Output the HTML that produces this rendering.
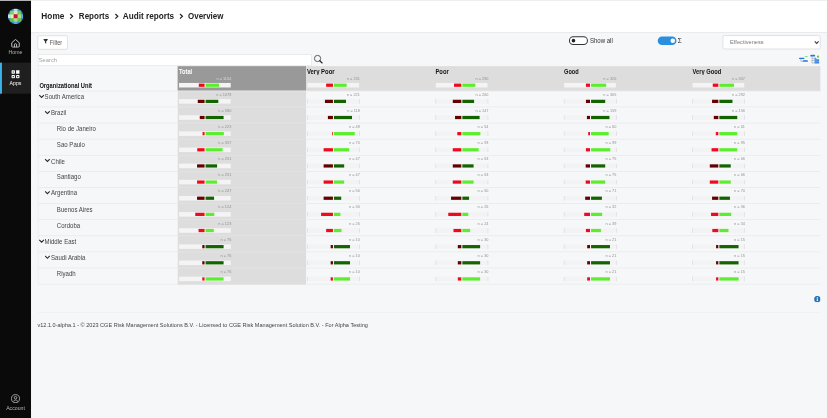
<!DOCTYPE html><html lang="en"><head><meta charset="utf-8"><title>Overview - Audit reports</title><style>
*{box-sizing:border-box;margin:0;padding:0}
html,body{width:827px;height:418px;overflow:hidden;background:#f6f7f9}
body{font-family:"Liberation Sans",sans-serif;color:#333}
#app{position:absolute;left:0;top:0;width:1280px;height:647px;transform:scale(0.64609375);transform-origin:0 0;background:#f6f7f9;overflow:hidden}
.abs{position:absolute}
.t{position:absolute;white-space:nowrap;line-height:1;transform-origin:0 50%}
#sidebar{position:absolute;left:0;top:0;width:48px;height:647px;background:#0a0a0a}
.nav{position:absolute;left:0;width:48px;height:48px;color:#d0d0d0}
.nav.active{background:#1f1f1f;border-left:3px solid #3cb2ea}
.navlbl{position:absolute;left:0;width:48px;text-align:center;font-size:8px;line-height:10px;color:#b4b4b4}
.bc{font-weight:bold;font-size:13.8px;color:#222}
.n{position:absolute;font-size:6.5px;line-height:8px;color:#939393;text-align:right;white-space:nowrap;transform:scaleX(0.92);transform-origin:100% 50%}
.lbl{font-size:10.1px;color:#444}
.hl{font-weight:bold;font-size:9.7px;color:#111}
</style></head><body><div id="app">
<svg class="abs" style="left:0;top:0" width="1280" height="647" viewBox="0 0 1280 647"><rect x="48" y="0" width="1232" height="50.2" fill="#fff"/><rect x="48" y="0" width="1232" height="1.15" fill="#eeeeee"/><rect x="48" y="49.9" width="1232" height="1.1" fill="#e3e4e6"/><rect x="58.4" y="55.3" width="46" height="21" rx="2.5" fill="#fff" stroke="#d4d4d4" stroke-width="1"/><rect x="881.4" y="57" width="27.8" height="11.8" rx="5.9" fill="#fff" stroke="#333" stroke-width="1.6"/><circle cx="887.6" cy="62.9" r="2.8" fill="#222"/><rect x="1018" y="56.6" width="29" height="13.2" rx="6.6" fill="#2b8fde"/><circle cx="1041.3" cy="63.2" r="3.5" fill="#fff"/><rect x="1119" y="55" width="150.6" height="20.8" rx="2.5" fill="#fff" stroke="#d4d4d4" stroke-width="1"/><rect x="59.2" y="84.5" width="422.8" height="17.2" fill="#fff" stroke="#e4e4e4" stroke-width="1"/></svg>
<span class="t bc" style="transform:scaleX(0.9284);left:64.2px;top:18.1px">Home</span>
<span class="t bc" style="transform:scaleX(0.9014);left:121.7px;top:18.1px">Reports</span>
<span class="t bc" style="transform:scaleX(0.9189);left:190px;top:18.1px">Audit reports</span>
<span class="t bc" style="transform:scaleX(0.8931);left:291.3px;top:18.1px">Overview</span>
<svg class="abs" style="left:107.2px;top:19.3px" width="8" height="12" viewBox="0 0 8 12"><path d="M1.6 2.6 L5.4 6.2 L1.6 9.8" fill="none" stroke="#222" stroke-width="1.8"/></svg>
<svg class="abs" style="left:177.0px;top:19.3px" width="8" height="12" viewBox="0 0 8 12"><path d="M1.6 2.6 L5.4 6.2 L1.6 9.8" fill="none" stroke="#222" stroke-width="1.8"/></svg>
<svg class="abs" style="left:277.2px;top:19.3px" width="8" height="12" viewBox="0 0 8 12"><path d="M1.6 2.6 L5.4 6.2 L1.6 9.8" fill="none" stroke="#222" stroke-width="1.8"/></svg>
<div id="sidebar">
<svg class="abs" style="left:12px;top:13.3px" width="24.3" height="24.3" viewBox="0 0 25 25">
<defs><clipPath id="lc"><circle cx="12.5" cy="12.5" r="12.3"/></clipPath></defs>
<g clip-path="url(#lc)">
<rect width="25" height="25" fill="#2a8ddb"/>
<rect x="9.5" y="0" width="6" height="4" fill="#cfe2f6"/>
<rect x="0" y="9.5" width="4" height="6" fill="#c9def3"/>
<rect x="21" y="9.5" width="4" height="6" fill="#58a6e4"/>
<rect x="9.5" y="21" width="6" height="4" fill="#5aa8e5"/>
<rect x="3.9" y="3.9" width="17.2" height="17.2" fill="#6cbf45"/>
<rect x="3.9" y="3.9" width="5.6" height="5.6" fill="#86ca63"/>
<rect x="15.5" y="3.9" width="5.6" height="5.6" fill="#78c553"/>
<rect x="9.5" y="3.9" width="6" height="5.6" fill="#d3ebc3"/>
<rect x="3.9" y="9.5" width="5.6" height="6" fill="#dcefd2"/>
<rect x="15.5" y="9.5" width="5.6" height="6" fill="#a9da8f"/>
<rect x="9.5" y="15.5" width="6" height="5.6" fill="#a6d98b"/>
<rect x="9.5" y="9.5" width="6" height="6" fill="#e6003f"/>
</g></svg>
<div class="nav" style="top:49px">
<svg class="abs" style="left:17px;top:11px" width="14" height="14" viewBox="0 0 14 14"><path d="M1.2 6.2 L7 1 L12.8 6.2 V11.6 Q12.8 13 11.4 13 H2.6 Q1.2 13 1.2 11.6 Z" fill="none" stroke="#c8c8c8" stroke-width="1.5" stroke-linejoin="round"/><path d="M5.3 13 V9.2 Q5.3 7.6 7 7.6 Q8.7 7.6 8.7 9.2 V13" fill="none" stroke="#c8c8c8" stroke-width="1.5"/></svg>
<div class="navlbl" style="top:27.5px">Home</div></div>
<div class="nav active" style="top:97px">
<svg class="abs" style="left:14px;top:10.9px" width="14" height="14" viewBox="0 0 14 14"><g fill="none" stroke="#fff" stroke-width="1.7"><rect x="1.75" y="1.75" width="3.5" height="3.5" rx="0.2"/><rect x="1.75" y="8.75" width="3.5" height="3.5" rx="0.2"/><rect x="8.75" y="8.75" width="3.5" height="3.5" rx="0.2"/></g><rect x="7.9" y="0.9" width="5.2" height="5.2" rx="0.3" fill="#fff"/></svg>
<div class="navlbl" style="left:-3px;top:27.5px;color:#fff">Apps</div></div>
<div class="nav" style="top:599px">
<svg class="abs" style="left:17px;top:11px" width="14" height="14" viewBox="0 0 14 14"><circle cx="7" cy="7" r="6.2" fill="none" stroke="#c4c4c4" stroke-width="1.2"/><circle cx="7" cy="5.6" r="2" fill="none" stroke="#c4c4c4" stroke-width="1.2"/><path d="M3.2 11.6 Q7 6.6 10.8 11.6" fill="none" stroke="#c4c4c4" stroke-width="1.2"/></svg>
<div class="navlbl" style="top:27.6px">Account</div></div>
</div>
<svg class="abs" style="left:0;top:0" width="1280" height="2" viewBox="0 0 1280 2"><rect x="0" y="0" width="1280" height="1.15" fill="#eeeeee"/></svg>
<svg class="abs" style="left:67.4px;top:60.4px" width="7.2" height="8.1" viewBox="0 0 8 9"><path d="M0.3 0.3 H7.7 V1.6 L5 4.6 V8.7 L3 7.5 V4.6 L0.3 1.6 Z" fill="#333"/></svg>
<span class="t" style="transform:scaleX(0.8861);left:77.2px;top:61px;font-size:9.8px;color:#555">Filter</span>
<span class="t" style="transform:scaleX(0.9191);left:912.6px;top:58.9px;font-size:10.2px;color:#333">Show all</span>
<span class="t" style="left:1049.2px;top:58.4px;font-size:11px;color:#222;transform:scaleX(0.9)">&Sigma;</span>
<span class="t" style="transform:scaleX(0.9544);left:1130px;top:60.9px;font-size:9.2px;color:#777">Effectiveness</span>
<svg class="abs" style="left:1259.9px;top:63.3px" width="8" height="6" viewBox="0 0 8 6"><path d="M1 1 L4 4.2 L7 1" fill="none" stroke="#3c3c3c" stroke-width="1.7"/></svg>
<span class="t" style="transform:scaleX(0.9523);left:60.4px;top:88.2px;font-size:9.4px;color:#a4a4a4">Search</span>
<svg class="abs" style="left:485.4px;top:84.2px" width="15.8" height="15.8" viewBox="0 0 17 17"><circle cx="7" cy="7" r="5.2" fill="none" stroke="#333" stroke-width="1.3"/><path d="M10.8 10.8 L14.6 14.4" stroke="#333" stroke-width="2.2" stroke-linecap="round"/></svg>
<svg class="abs" style="left:1235px;top:84.9px" width="16" height="14" viewBox="0 0 16 14">
<path d="M4.6 6.4 V9.9 H7" fill="none" stroke="#999" stroke-width="0.9"/>
<rect x="1.8" y="4.4" width="8.2" height="2" rx="0.8" fill="#2277dd"/>
<rect x="10.4" y="2.1" width="5" height="1.3" rx="0.6" fill="#7bd35a"/>
<rect x="7.4" y="8.3" width="8" height="2.3" rx="0.8" fill="#2277dd"/>
</svg>
<svg class="abs" style="left:1253px;top:84.4px" width="17" height="16" viewBox="0 0 17 16">
<path d="M3.8 3.4 V13.8 M3.8 6.3 H7 M3.8 9.6 H7 M3.8 13.4 H7" fill="none" stroke="#999" stroke-width="0.9"/>
<rect x="1.2" y="0.9" width="7.4" height="2.6" rx="0.9" fill="#2277dd"/>
<circle cx="13.1" cy="3.7" r="1.8" fill="#6cc94a"/>
<rect x="7.4" y="5.5" width="3.2" height="1.5" rx="0.5" fill="#2277dd"/>
<rect x="7.6" y="8" width="7.2" height="6" fill="#5a9be6"/>
<rect x="7.6" y="8" width="7.2" height="1.3" fill="#2b7de0"/>
<rect x="7.6" y="12.7" width="7.2" height="1.3" fill="#2b7de0"/>
</svg>
<svg class="abs" style="left:0;top:0" width="1280" height="647" viewBox="0 0 1280 647"><rect x="274.90" y="102.40" width="198.80" height="38.30" fill="#999"/><rect x="473.70" y="102.40" width="796.00" height="38.20" fill="#dddddd"/><rect x="275.00" y="140.10" width="198.70" height="300.16" fill="#dddddd"/><rect x="274.00" y="140.10" width="1.20" height="299.16" fill="#f1f1f2"/><rect x="59.00" y="140.40" width="216.00" height="1.00" fill="#e6e7e9"/><rect x="473.70" y="140.60" width="796.00" height="1.00" fill="#e9eaec"/><rect x="275.00" y="140.70" width="198.70" height="1.40" fill="#e2e2e2"/><rect x="59.00" y="165.03" width="1210.70" height="1.00" fill="#e6e7e9"/><rect x="275.00" y="165.03" width="198.70" height="1.00" fill="#e0e0e0"/><rect x="59.00" y="189.96" width="1210.70" height="1.00" fill="#e6e7e9"/><rect x="275.00" y="189.96" width="198.70" height="1.00" fill="#e0e0e0"/><rect x="59.00" y="214.89" width="1210.70" height="1.00" fill="#e6e7e9"/><rect x="275.00" y="214.89" width="198.70" height="1.00" fill="#e0e0e0"/><rect x="59.00" y="239.82" width="1210.70" height="1.00" fill="#e6e7e9"/><rect x="275.00" y="239.82" width="198.70" height="1.00" fill="#e0e0e0"/><rect x="59.00" y="264.75" width="1210.70" height="1.00" fill="#e6e7e9"/><rect x="275.00" y="264.75" width="198.70" height="1.00" fill="#e0e0e0"/><rect x="59.00" y="289.68" width="1210.70" height="1.00" fill="#e6e7e9"/><rect x="275.00" y="289.68" width="198.70" height="1.00" fill="#e0e0e0"/><rect x="59.00" y="314.61" width="1210.70" height="1.00" fill="#e6e7e9"/><rect x="275.00" y="314.61" width="198.70" height="1.00" fill="#e0e0e0"/><rect x="59.00" y="339.54" width="1210.70" height="1.00" fill="#e6e7e9"/><rect x="275.00" y="339.54" width="198.70" height="1.00" fill="#e0e0e0"/><rect x="59.00" y="364.47" width="1210.70" height="1.00" fill="#e6e7e9"/><rect x="275.00" y="364.47" width="198.70" height="1.00" fill="#e0e0e0"/><rect x="59.00" y="389.40" width="1210.70" height="1.00" fill="#e6e7e9"/><rect x="275.00" y="389.40" width="198.70" height="1.00" fill="#e0e0e0"/><rect x="59.00" y="414.33" width="1210.70" height="1.00" fill="#e6e7e9"/><rect x="275.00" y="414.33" width="198.70" height="1.00" fill="#e0e0e0"/><rect x="59.00" y="439.26" width="1210.70" height="1.00" fill="#e6e7e9"/><rect x="275.00" y="439.26" width="198.70" height="1.00" fill="#dcdcdc"/><rect x="58.50" y="102.00" width="1.00" height="337.26" fill="#ececee"/><rect x="277.10" y="128.40" width="80" height="7" fill="#f4f4f4"/><rect x="307.70" y="129.40" width="8.90" height="5" fill="#ee0a1e"/><rect x="318.20" y="129.40" width="20.90" height="5" fill="#5bee2c"/><rect x="277.10" y="153.40" width="80" height="7" fill="#f4f4f4"/><rect x="306.10" y="154.40" width="10.50" height="5" fill="#640000"/><rect x="318.20" y="154.40" width="19.70" height="5" fill="#136400"/><rect x="277.10" y="178.38" width="80" height="7" fill="#f4f4f4"/><rect x="309.20" y="179.38" width="7.40" height="5" fill="#640000"/><rect x="318.20" y="179.38" width="27.90" height="5" fill="#136400"/><rect x="277.10" y="203.37" width="80" height="7" fill="#f4f4f4"/><rect x="313.50" y="204.37" width="3.10" height="5" fill="#ee0a1e"/><rect x="318.20" y="204.37" width="28.30" height="5" fill="#5bee2c"/><rect x="277.10" y="228.36" width="80" height="7" fill="#f4f4f4"/><rect x="305.30" y="229.36" width="11.30" height="5" fill="#ee0a1e"/><rect x="318.20" y="229.36" width="26.30" height="5" fill="#5bee2c"/><rect x="277.10" y="253.34" width="80" height="7" fill="#f4f4f4"/><rect x="305.00" y="254.34" width="11.60" height="5" fill="#640000"/><rect x="318.20" y="254.34" width="17.80" height="5" fill="#136400"/><rect x="277.10" y="278.32" width="80" height="7" fill="#f4f4f4"/><rect x="305.00" y="279.32" width="11.60" height="5" fill="#ee0a1e"/><rect x="318.20" y="279.32" width="17.80" height="5" fill="#5bee2c"/><rect x="277.10" y="303.31" width="80" height="7" fill="#f4f4f4"/><rect x="305.00" y="304.31" width="11.60" height="5" fill="#640000"/><rect x="318.20" y="304.31" width="13.10" height="5" fill="#136400"/><rect x="277.10" y="328.29" width="80" height="7" fill="#f4f4f4"/><rect x="302.20" y="329.29" width="14.40" height="5" fill="#ee0a1e"/><rect x="318.20" y="329.29" width="13.50" height="5" fill="#5bee2c"/><rect x="277.10" y="353.28" width="80" height="7" fill="#f4f4f4"/><rect x="307.30" y="354.28" width="9.30" height="5" fill="#ee0a1e"/><rect x="318.20" y="354.28" width="12.70" height="5" fill="#5bee2c"/><rect x="277.10" y="378.26" width="80" height="7" fill="#f4f4f4"/><rect x="313.10" y="379.26" width="3.50" height="5" fill="#640000"/><rect x="318.20" y="379.26" width="27.90" height="5" fill="#136400"/><rect x="277.10" y="403.25" width="80" height="7" fill="#f4f4f4"/><rect x="313.10" y="404.25" width="3.50" height="5" fill="#640000"/><rect x="318.20" y="404.25" width="27.90" height="5" fill="#136400"/><rect x="277.10" y="428.24" width="80" height="7" fill="#f4f4f4"/><rect x="313.10" y="429.24" width="3.50" height="5" fill="#ee0a1e"/><rect x="318.20" y="429.24" width="27.90" height="5" fill="#5bee2c"/><rect x="475.80" y="128.40" width="80" height="7" fill="#f4f4f4"/><rect x="504.80" y="129.40" width="10.50" height="5" fill="#ee0a1e"/><rect x="516.90" y="129.40" width="19.70" height="5" fill="#5bee2c"/><rect x="475.80" y="153.40" width="80.4" height="7" fill="#f3f3f4"/><rect x="475.30" y="153.40" width="1" height="7" fill="#d9d9d9"/><rect x="556.00" y="153.40" width="1" height="7" fill="#d9d9d9"/><rect x="502.90" y="154.40" width="12.40" height="5" fill="#640000"/><rect x="516.90" y="154.40" width="18.60" height="5" fill="#136400"/><rect x="475.80" y="178.38" width="80.4" height="7" fill="#f3f3f4"/><rect x="475.30" y="178.38" width="1" height="7" fill="#d9d9d9"/><rect x="556.00" y="178.38" width="1" height="7" fill="#d9d9d9"/><rect x="507.50" y="179.38" width="7.80" height="5" fill="#640000"/><rect x="516.90" y="179.38" width="27.90" height="5" fill="#136400"/><rect x="475.80" y="203.37" width="80.4" height="7" fill="#f3f3f4"/><rect x="475.30" y="203.37" width="1" height="7" fill="#d9d9d9"/><rect x="556.00" y="203.37" width="1" height="7" fill="#d9d9d9"/><rect x="514.10" y="204.37" width="1.20" height="5" fill="#ee0a1e"/><rect x="516.90" y="204.37" width="32.20" height="5" fill="#5bee2c"/><rect x="475.80" y="228.36" width="80.4" height="7" fill="#f3f3f4"/><rect x="475.30" y="228.36" width="1" height="7" fill="#d9d9d9"/><rect x="556.00" y="228.36" width="1" height="7" fill="#d9d9d9"/><rect x="500.90" y="229.36" width="14.40" height="5" fill="#ee0a1e"/><rect x="516.90" y="229.36" width="23.60" height="5" fill="#5bee2c"/><rect x="475.80" y="253.34" width="80.4" height="7" fill="#f3f3f4"/><rect x="475.30" y="253.34" width="1" height="7" fill="#d9d9d9"/><rect x="556.00" y="253.34" width="1" height="7" fill="#d9d9d9"/><rect x="500.90" y="254.34" width="14.40" height="5" fill="#640000"/><rect x="516.90" y="254.34" width="15.80" height="5" fill="#136400"/><rect x="475.80" y="278.32" width="80.4" height="7" fill="#f3f3f4"/><rect x="475.30" y="278.32" width="1" height="7" fill="#d9d9d9"/><rect x="556.00" y="278.32" width="1" height="7" fill="#d9d9d9"/><rect x="500.90" y="279.32" width="14.40" height="5" fill="#ee0a1e"/><rect x="516.90" y="279.32" width="15.80" height="5" fill="#5bee2c"/><rect x="475.80" y="303.31" width="80.4" height="7" fill="#f3f3f4"/><rect x="475.30" y="303.31" width="1" height="7" fill="#d9d9d9"/><rect x="556.00" y="303.31" width="1" height="7" fill="#d9d9d9"/><rect x="500.90" y="304.31" width="14.40" height="5" fill="#640000"/><rect x="516.90" y="304.31" width="11.20" height="5" fill="#136400"/><rect x="475.80" y="328.29" width="80.4" height="7" fill="#f3f3f4"/><rect x="475.30" y="328.29" width="1" height="7" fill="#d9d9d9"/><rect x="556.00" y="328.29" width="1" height="7" fill="#d9d9d9"/><rect x="497.00" y="329.29" width="18.30" height="5" fill="#ee0a1e"/><rect x="516.90" y="329.29" width="10.00" height="5" fill="#5bee2c"/><rect x="475.80" y="353.28" width="80.4" height="7" fill="#f3f3f4"/><rect x="475.30" y="353.28" width="1" height="7" fill="#d9d9d9"/><rect x="556.00" y="353.28" width="1" height="7" fill="#d9d9d9"/><rect x="504.80" y="354.28" width="10.50" height="5" fill="#ee0a1e"/><rect x="516.90" y="354.28" width="11.60" height="5" fill="#5bee2c"/><rect x="475.80" y="378.26" width="80.4" height="7" fill="#f3f3f4"/><rect x="475.30" y="378.26" width="1" height="7" fill="#d9d9d9"/><rect x="556.00" y="378.26" width="1" height="7" fill="#d9d9d9"/><rect x="511.80" y="379.26" width="3.50" height="5" fill="#640000"/><rect x="516.90" y="379.26" width="24.80" height="5" fill="#136400"/><rect x="475.80" y="403.25" width="80.4" height="7" fill="#f3f3f4"/><rect x="475.30" y="403.25" width="1" height="7" fill="#d9d9d9"/><rect x="556.00" y="403.25" width="1" height="7" fill="#d9d9d9"/><rect x="511.80" y="404.25" width="3.50" height="5" fill="#640000"/><rect x="516.90" y="404.25" width="24.80" height="5" fill="#136400"/><rect x="475.80" y="428.24" width="80.4" height="7" fill="#f3f3f4"/><rect x="475.30" y="428.24" width="1" height="7" fill="#d9d9d9"/><rect x="556.00" y="428.24" width="1" height="7" fill="#d9d9d9"/><rect x="511.80" y="429.24" width="3.50" height="5" fill="#ee0a1e"/><rect x="516.90" y="429.24" width="24.80" height="5" fill="#5bee2c"/><rect x="674.50" y="128.40" width="80" height="7" fill="#f4f4f4"/><rect x="702.70" y="129.40" width="11.30" height="5" fill="#ee0a1e"/><rect x="715.60" y="129.40" width="20.10" height="5" fill="#5bee2c"/><rect x="674.50" y="153.40" width="80.4" height="7" fill="#f3f3f4"/><rect x="674.00" y="153.40" width="1" height="7" fill="#d9d9d9"/><rect x="754.70" y="153.40" width="1" height="7" fill="#d9d9d9"/><rect x="700.80" y="154.40" width="13.20" height="5" fill="#640000"/><rect x="715.60" y="154.40" width="18.20" height="5" fill="#136400"/><rect x="674.50" y="178.38" width="80.4" height="7" fill="#f3f3f4"/><rect x="674.00" y="178.38" width="1" height="7" fill="#d9d9d9"/><rect x="754.70" y="178.38" width="1" height="7" fill="#d9d9d9"/><rect x="704.30" y="179.38" width="9.70" height="5" fill="#640000"/><rect x="715.60" y="179.38" width="26.70" height="5" fill="#136400"/><rect x="674.50" y="203.37" width="80.4" height="7" fill="#f3f3f4"/><rect x="674.00" y="203.37" width="1" height="7" fill="#d9d9d9"/><rect x="754.70" y="203.37" width="1" height="7" fill="#d9d9d9"/><rect x="707.80" y="204.37" width="6.20" height="5" fill="#ee0a1e"/><rect x="715.60" y="204.37" width="27.90" height="5" fill="#5bee2c"/><rect x="674.50" y="228.36" width="80.4" height="7" fill="#f3f3f4"/><rect x="674.00" y="228.36" width="1" height="7" fill="#d9d9d9"/><rect x="754.70" y="228.36" width="1" height="7" fill="#d9d9d9"/><rect x="700.80" y="229.36" width="13.20" height="5" fill="#ee0a1e"/><rect x="715.60" y="229.36" width="25.20" height="5" fill="#5bee2c"/><rect x="674.50" y="253.34" width="80.4" height="7" fill="#f3f3f4"/><rect x="674.00" y="253.34" width="1" height="7" fill="#d9d9d9"/><rect x="754.70" y="253.34" width="1" height="7" fill="#d9d9d9"/><rect x="700.80" y="254.34" width="13.20" height="5" fill="#640000"/><rect x="715.60" y="254.34" width="17.40" height="5" fill="#136400"/><rect x="674.50" y="278.32" width="80.4" height="7" fill="#f3f3f4"/><rect x="674.00" y="278.32" width="1" height="7" fill="#d9d9d9"/><rect x="754.70" y="278.32" width="1" height="7" fill="#d9d9d9"/><rect x="700.80" y="279.32" width="13.20" height="5" fill="#ee0a1e"/><rect x="715.60" y="279.32" width="17.40" height="5" fill="#5bee2c"/><rect x="674.50" y="303.31" width="80.4" height="7" fill="#f3f3f4"/><rect x="674.00" y="303.31" width="1" height="7" fill="#d9d9d9"/><rect x="754.70" y="303.31" width="1" height="7" fill="#d9d9d9"/><rect x="698.10" y="304.31" width="15.90" height="5" fill="#640000"/><rect x="715.60" y="304.31" width="10.40" height="5" fill="#136400"/><rect x="674.50" y="328.29" width="80.4" height="7" fill="#f3f3f4"/><rect x="674.00" y="328.29" width="1" height="7" fill="#d9d9d9"/><rect x="754.70" y="328.29" width="1" height="7" fill="#d9d9d9"/><rect x="693.80" y="329.29" width="20.20" height="5" fill="#ee0a1e"/><rect x="715.60" y="329.29" width="9.20" height="5" fill="#5bee2c"/><rect x="674.50" y="353.28" width="80.4" height="7" fill="#f3f3f4"/><rect x="674.00" y="353.28" width="1" height="7" fill="#d9d9d9"/><rect x="754.70" y="353.28" width="1" height="7" fill="#d9d9d9"/><rect x="701.90" y="354.28" width="12.10" height="5" fill="#ee0a1e"/><rect x="715.60" y="354.28" width="12.00" height="5" fill="#5bee2c"/><rect x="674.50" y="378.26" width="80.4" height="7" fill="#f3f3f4"/><rect x="674.00" y="378.26" width="1" height="7" fill="#d9d9d9"/><rect x="754.70" y="378.26" width="1" height="7" fill="#d9d9d9"/><rect x="708.60" y="379.26" width="5.40" height="5" fill="#640000"/><rect x="715.60" y="379.26" width="27.50" height="5" fill="#136400"/><rect x="674.50" y="403.25" width="80.4" height="7" fill="#f3f3f4"/><rect x="674.00" y="403.25" width="1" height="7" fill="#d9d9d9"/><rect x="754.70" y="403.25" width="1" height="7" fill="#d9d9d9"/><rect x="708.60" y="404.25" width="5.40" height="5" fill="#640000"/><rect x="715.60" y="404.25" width="27.50" height="5" fill="#136400"/><rect x="674.50" y="428.24" width="80.4" height="7" fill="#f3f3f4"/><rect x="674.00" y="428.24" width="1" height="7" fill="#d9d9d9"/><rect x="754.70" y="428.24" width="1" height="7" fill="#d9d9d9"/><rect x="708.60" y="429.24" width="5.40" height="5" fill="#ee0a1e"/><rect x="715.60" y="429.24" width="27.50" height="5" fill="#5bee2c"/><rect x="873.20" y="128.40" width="80" height="7" fill="#f4f4f4"/><rect x="906.90" y="129.40" width="6.30" height="5" fill="#ee0a1e"/><rect x="914.80" y="129.40" width="23.40" height="5" fill="#5bee2c"/><rect x="873.20" y="153.40" width="80.4" height="7" fill="#f3f3f4"/><rect x="872.70" y="153.40" width="1" height="7" fill="#d9d9d9"/><rect x="953.40" y="153.40" width="1" height="7" fill="#d9d9d9"/><rect x="906.90" y="154.40" width="6.30" height="5" fill="#640000"/><rect x="914.80" y="154.40" width="21.90" height="5" fill="#136400"/><rect x="873.20" y="178.38" width="80.4" height="7" fill="#f3f3f4"/><rect x="872.70" y="178.38" width="1" height="7" fill="#d9d9d9"/><rect x="953.40" y="178.38" width="1" height="7" fill="#d9d9d9"/><rect x="908.40" y="179.38" width="4.80" height="5" fill="#640000"/><rect x="914.80" y="179.38" width="28.50" height="5" fill="#136400"/><rect x="873.20" y="203.37" width="80.4" height="7" fill="#f3f3f4"/><rect x="872.70" y="203.37" width="1" height="7" fill="#d9d9d9"/><rect x="953.40" y="203.37" width="1" height="7" fill="#d9d9d9"/><rect x="910.40" y="204.37" width="2.80" height="5" fill="#ee0a1e"/><rect x="914.80" y="204.37" width="27.30" height="5" fill="#5bee2c"/><rect x="873.20" y="228.36" width="80.4" height="7" fill="#f3f3f4"/><rect x="872.70" y="228.36" width="1" height="7" fill="#d9d9d9"/><rect x="953.40" y="228.36" width="1" height="7" fill="#d9d9d9"/><rect x="906.90" y="229.36" width="6.30" height="5" fill="#ee0a1e"/><rect x="914.80" y="229.36" width="29.70" height="5" fill="#5bee2c"/><rect x="873.20" y="253.34" width="80.4" height="7" fill="#f3f3f4"/><rect x="872.70" y="253.34" width="1" height="7" fill="#d9d9d9"/><rect x="953.40" y="253.34" width="1" height="7" fill="#d9d9d9"/><rect x="906.50" y="254.34" width="6.70" height="5" fill="#640000"/><rect x="914.80" y="254.34" width="21.90" height="5" fill="#136400"/><rect x="873.20" y="278.32" width="80.4" height="7" fill="#f3f3f4"/><rect x="872.70" y="278.32" width="1" height="7" fill="#d9d9d9"/><rect x="953.40" y="278.32" width="1" height="7" fill="#d9d9d9"/><rect x="906.50" y="279.32" width="6.70" height="5" fill="#ee0a1e"/><rect x="914.80" y="279.32" width="21.90" height="5" fill="#5bee2c"/><rect x="873.20" y="303.31" width="80.4" height="7" fill="#f3f3f4"/><rect x="872.70" y="303.31" width="1" height="7" fill="#d9d9d9"/><rect x="953.40" y="303.31" width="1" height="7" fill="#d9d9d9"/><rect x="905.70" y="304.31" width="7.50" height="5" fill="#640000"/><rect x="914.80" y="304.31" width="16.80" height="5" fill="#136400"/><rect x="873.20" y="328.29" width="80.4" height="7" fill="#f3f3f4"/><rect x="872.70" y="328.29" width="1" height="7" fill="#d9d9d9"/><rect x="953.40" y="328.29" width="1" height="7" fill="#d9d9d9"/><rect x="904.20" y="329.29" width="9.00" height="5" fill="#ee0a1e"/><rect x="914.80" y="329.29" width="17.20" height="5" fill="#5bee2c"/><rect x="873.20" y="353.28" width="80.4" height="7" fill="#f3f3f4"/><rect x="872.70" y="353.28" width="1" height="7" fill="#d9d9d9"/><rect x="953.40" y="353.28" width="1" height="7" fill="#d9d9d9"/><rect x="906.90" y="354.28" width="6.30" height="5" fill="#ee0a1e"/><rect x="914.80" y="354.28" width="15.30" height="5" fill="#5bee2c"/><rect x="873.20" y="378.26" width="80.4" height="7" fill="#f3f3f4"/><rect x="872.70" y="378.26" width="1" height="7" fill="#d9d9d9"/><rect x="953.40" y="378.26" width="1" height="7" fill="#d9d9d9"/><rect x="908.80" y="379.26" width="4.40" height="5" fill="#640000"/><rect x="914.80" y="379.26" width="29.30" height="5" fill="#136400"/><rect x="873.20" y="403.25" width="80.4" height="7" fill="#f3f3f4"/><rect x="872.70" y="403.25" width="1" height="7" fill="#d9d9d9"/><rect x="953.40" y="403.25" width="1" height="7" fill="#d9d9d9"/><rect x="908.80" y="404.25" width="4.40" height="5" fill="#640000"/><rect x="914.80" y="404.25" width="29.30" height="5" fill="#136400"/><rect x="873.20" y="428.24" width="80.4" height="7" fill="#f3f3f4"/><rect x="872.70" y="428.24" width="1" height="7" fill="#d9d9d9"/><rect x="953.40" y="428.24" width="1" height="7" fill="#d9d9d9"/><rect x="908.80" y="429.24" width="4.40" height="5" fill="#ee0a1e"/><rect x="914.80" y="429.24" width="29.30" height="5" fill="#5bee2c"/><rect x="1071.90" y="128.40" width="80" height="7" fill="#f4f4f4"/><rect x="1103.20" y="129.40" width="8.60" height="5" fill="#ee0a1e"/><rect x="1113.40" y="129.40" width="22.70" height="5" fill="#5bee2c"/><rect x="1071.90" y="153.40" width="80.4" height="7" fill="#f3f3f4"/><rect x="1071.40" y="153.40" width="1" height="7" fill="#d9d9d9"/><rect x="1152.10" y="153.40" width="1" height="7" fill="#d9d9d9"/><rect x="1102.10" y="154.40" width="9.70" height="5" fill="#640000"/><rect x="1113.40" y="154.40" width="20.30" height="5" fill="#136400"/><rect x="1071.90" y="178.38" width="80.4" height="7" fill="#f3f3f4"/><rect x="1071.40" y="178.38" width="1" height="7" fill="#d9d9d9"/><rect x="1152.10" y="178.38" width="1" height="7" fill="#d9d9d9"/><rect x="1104.80" y="179.38" width="7.00" height="5" fill="#640000"/><rect x="1113.40" y="179.38" width="27.70" height="5" fill="#136400"/><rect x="1071.90" y="203.37" width="80.4" height="7" fill="#f3f3f4"/><rect x="1071.40" y="203.37" width="1" height="7" fill="#d9d9d9"/><rect x="1152.10" y="203.37" width="1" height="7" fill="#d9d9d9"/><rect x="1107.90" y="204.37" width="3.90" height="5" fill="#ee0a1e"/><rect x="1113.40" y="204.37" width="27.70" height="5" fill="#5bee2c"/><rect x="1071.90" y="228.36" width="80.4" height="7" fill="#f3f3f4"/><rect x="1071.40" y="228.36" width="1" height="7" fill="#d9d9d9"/><rect x="1152.10" y="228.36" width="1" height="7" fill="#d9d9d9"/><rect x="1101.30" y="229.36" width="10.50" height="5" fill="#ee0a1e"/><rect x="1113.40" y="229.36" width="27.70" height="5" fill="#5bee2c"/><rect x="1071.90" y="253.34" width="80.4" height="7" fill="#f3f3f4"/><rect x="1071.40" y="253.34" width="1" height="7" fill="#d9d9d9"/><rect x="1152.10" y="253.34" width="1" height="7" fill="#d9d9d9"/><rect x="1098.60" y="254.34" width="13.20" height="5" fill="#640000"/><rect x="1113.40" y="254.34" width="17.60" height="5" fill="#136400"/><rect x="1071.90" y="278.32" width="80.4" height="7" fill="#f3f3f4"/><rect x="1071.40" y="278.32" width="1" height="7" fill="#d9d9d9"/><rect x="1152.10" y="278.32" width="1" height="7" fill="#d9d9d9"/><rect x="1098.60" y="279.32" width="13.20" height="5" fill="#ee0a1e"/><rect x="1113.40" y="279.32" width="17.60" height="5" fill="#5bee2c"/><rect x="1071.90" y="303.31" width="80.4" height="7" fill="#f3f3f4"/><rect x="1071.40" y="303.31" width="1" height="7" fill="#d9d9d9"/><rect x="1152.10" y="303.31" width="1" height="7" fill="#d9d9d9"/><rect x="1102.10" y="304.31" width="9.70" height="5" fill="#640000"/><rect x="1113.40" y="304.31" width="16.40" height="5" fill="#136400"/><rect x="1071.90" y="328.29" width="80.4" height="7" fill="#f3f3f4"/><rect x="1071.40" y="328.29" width="1" height="7" fill="#d9d9d9"/><rect x="1152.10" y="328.29" width="1" height="7" fill="#d9d9d9"/><rect x="1100.50" y="329.29" width="11.30" height="5" fill="#ee0a1e"/><rect x="1113.40" y="329.29" width="18.40" height="5" fill="#5bee2c"/><rect x="1071.90" y="353.28" width="80.4" height="7" fill="#f3f3f4"/><rect x="1071.40" y="353.28" width="1" height="7" fill="#d9d9d9"/><rect x="1152.10" y="353.28" width="1" height="7" fill="#d9d9d9"/><rect x="1102.50" y="354.28" width="9.30" height="5" fill="#ee0a1e"/><rect x="1113.40" y="354.28" width="14.10" height="5" fill="#5bee2c"/><rect x="1071.90" y="378.26" width="80.4" height="7" fill="#f3f3f4"/><rect x="1071.40" y="378.26" width="1" height="7" fill="#d9d9d9"/><rect x="1152.10" y="378.26" width="1" height="7" fill="#d9d9d9"/><rect x="1108.30" y="379.26" width="3.50" height="5" fill="#640000"/><rect x="1113.40" y="379.26" width="29.70" height="5" fill="#136400"/><rect x="1071.90" y="403.25" width="80.4" height="7" fill="#f3f3f4"/><rect x="1071.40" y="403.25" width="1" height="7" fill="#d9d9d9"/><rect x="1152.10" y="403.25" width="1" height="7" fill="#d9d9d9"/><rect x="1108.30" y="404.25" width="3.50" height="5" fill="#640000"/><rect x="1113.40" y="404.25" width="29.70" height="5" fill="#136400"/><rect x="1071.90" y="428.24" width="80.4" height="7" fill="#f3f3f4"/><rect x="1071.40" y="428.24" width="1" height="7" fill="#d9d9d9"/><rect x="1152.10" y="428.24" width="1" height="7" fill="#d9d9d9"/><rect x="1108.30" y="429.24" width="3.50" height="5" fill="#ee0a1e"/><rect x="1113.40" y="429.24" width="29.70" height="5" fill="#5bee2c"/></svg>
<span class="t hl" style="transform:scaleX(0.9165);left:60.5px;top:128.2px;font-size:9.7px">Organizational Unit</span>
<span class="t hl" style="transform:scaleX(0.9098);left:276.90px;top:105.90px;color:#fff">Total</span>
<span class="n" style="left:298.10px;width:60px;top:118.00px;color:#dadada">n = 1154</span>

<span class="n" style="left:298.10px;width:60px;top:142.00px">n = 1078</span>

<span class="n" style="left:298.10px;width:60px;top:166.93px">n = 580</span>

<span class="n" style="left:298.10px;width:60px;top:191.86px">n = 223</span>

<span class="n" style="left:298.10px;width:60px;top:216.79px">n = 357</span>

<span class="n" style="left:298.10px;width:60px;top:241.72px">n = 251</span>

<span class="n" style="left:298.10px;width:60px;top:266.65px">n = 251</span>

<span class="n" style="left:298.10px;width:60px;top:290.78px">n = 247</span>

<span class="n" style="left:298.10px;width:60px;top:315.71px">n = 124</span>

<span class="n" style="left:298.10px;width:60px;top:342.24px">n = 123</span>

<span class="n" style="left:298.10px;width:60px;top:367.17px">n = 76</span>

<span class="n" style="left:298.10px;width:60px;top:392.10px">n = 76</span>

<span class="n" style="left:298.10px;width:60px;top:416.23px">n = 76</span>

<span class="t hl" style="transform:scaleX(0.9506);left:474.90px;top:105.90px;color:#111">Very Poor</span>
<span class="n" style="left:496.80px;width:60px;top:118.00px;color:#939393">n = 231</span>

<span class="n" style="left:496.80px;width:60px;top:142.00px">n = 221</span>

<span class="n" style="left:496.80px;width:60px;top:166.93px">n = 118</span>

<span class="n" style="left:496.80px;width:60px;top:191.86px">n = 48</span>

<span class="n" style="left:496.80px;width:60px;top:216.79px">n = 70</span>

<span class="n" style="left:496.80px;width:60px;top:241.72px">n = 47</span>

<span class="n" style="left:496.80px;width:60px;top:266.65px">n = 47</span>

<span class="n" style="left:496.80px;width:60px;top:290.78px">n = 56</span>

<span class="n" style="left:496.80px;width:60px;top:315.71px">n = 30</span>

<span class="n" style="left:496.80px;width:60px;top:342.24px">n = 26</span>

<span class="n" style="left:496.80px;width:60px;top:367.17px">n = 10</span>

<span class="n" style="left:496.80px;width:60px;top:392.10px">n = 10</span>

<span class="n" style="left:496.80px;width:60px;top:416.23px">n = 10</span>

<span class="t hl" style="transform:scaleX(0.9285);left:674.30px;top:105.90px;color:#111">Poor</span>
<span class="n" style="left:695.50px;width:60px;top:118.00px;color:#939393">n = 290</span>

<span class="n" style="left:695.50px;width:60px;top:142.00px">n = 260</span>

<span class="n" style="left:695.50px;width:60px;top:166.93px">n = 147</span>

<span class="n" style="left:695.50px;width:60px;top:191.86px">n = 54</span>

<span class="n" style="left:695.50px;width:60px;top:216.79px">n = 93</span>

<span class="n" style="left:695.50px;width:60px;top:241.72px">n = 63</span>

<span class="n" style="left:695.50px;width:60px;top:266.65px">n = 63</span>

<span class="n" style="left:695.50px;width:60px;top:290.78px">n = 50</span>

<span class="n" style="left:695.50px;width:60px;top:315.71px">n = 26</span>

<span class="n" style="left:695.50px;width:60px;top:342.24px">n = 24</span>

<span class="n" style="left:695.50px;width:60px;top:367.17px">n = 30</span>

<span class="n" style="left:695.50px;width:60px;top:392.10px">n = 30</span>

<span class="n" style="left:695.50px;width:60px;top:416.23px">n = 30</span>

<span class="t hl" style="transform:scaleX(0.8934);left:873.00px;top:105.90px;color:#111">Good</span>
<span class="n" style="left:894.20px;width:60px;top:118.00px;color:#939393">n = 326</span>

<span class="n" style="left:894.20px;width:60px;top:142.00px">n = 305</span>

<span class="n" style="left:894.20px;width:60px;top:166.93px">n = 159</span>

<span class="n" style="left:894.20px;width:60px;top:191.86px">n = 60</span>

<span class="n" style="left:894.20px;width:60px;top:216.79px">n = 99</span>

<span class="n" style="left:894.20px;width:60px;top:241.72px">n = 75</span>

<span class="n" style="left:894.20px;width:60px;top:266.65px">n = 75</span>

<span class="n" style="left:894.20px;width:60px;top:290.78px">n = 71</span>

<span class="n" style="left:894.20px;width:60px;top:315.71px">n = 32</span>

<span class="n" style="left:894.20px;width:60px;top:342.24px">n = 39</span>

<span class="n" style="left:894.20px;width:60px;top:367.17px">n = 21</span>

<span class="n" style="left:894.20px;width:60px;top:392.10px">n = 21</span>

<span class="n" style="left:894.20px;width:60px;top:416.23px">n = 21</span>

<span class="t hl" style="transform:scaleX(0.9143);left:1071.70px;top:105.90px;color:#111">Very Good</span>
<span class="n" style="left:1092.90px;width:60px;top:118.00px;color:#939393">n = 307</span>

<span class="n" style="left:1092.90px;width:60px;top:142.00px">n = 292</span>

<span class="n" style="left:1092.90px;width:60px;top:166.93px">n = 156</span>

<span class="n" style="left:1092.90px;width:60px;top:191.86px">n = 61</span>

<span class="n" style="left:1092.90px;width:60px;top:216.79px">n = 95</span>

<span class="n" style="left:1092.90px;width:60px;top:241.72px">n = 66</span>

<span class="n" style="left:1092.90px;width:60px;top:266.65px">n = 66</span>

<span class="n" style="left:1092.90px;width:60px;top:290.78px">n = 70</span>

<span class="n" style="left:1092.90px;width:60px;top:315.71px">n = 36</span>

<span class="n" style="left:1092.90px;width:60px;top:342.24px">n = 34</span>

<span class="n" style="left:1092.90px;width:60px;top:367.17px">n = 15</span>

<span class="n" style="left:1092.90px;width:60px;top:392.10px">n = 15</span>

<span class="n" style="left:1092.90px;width:60px;top:416.23px">n = 15</span>

<svg class="abs" style="left:59.60px;top:145.70px" width="9" height="7" viewBox="0 0 9 7"><path d="M0.8 1.2 L4.4 4.8 L8 1.2" fill="none" stroke="#2a2a2a" stroke-width="1.7"/></svg>
<span class="t lbl" style="transform:scaleX(0.93);left:68.60px;top:144.70px">South America</span>
<svg class="abs" style="left:69.00px;top:170.63px" width="9" height="7" viewBox="0 0 9 7"><path d="M0.8 1.2 L4.4 4.8 L8 1.2" fill="none" stroke="#2a2a2a" stroke-width="1.7"/></svg>
<span class="t lbl" style="transform:scaleX(0.93);left:79.20px;top:169.63px">Brazil</span>
<span class="t lbl" style="transform:scaleX(0.93);left:88.40px;top:194.56px">Rio de Janeiro</span>
<span class="t lbl" style="transform:scaleX(0.93);left:88.40px;top:219.49px">Sao Paulo</span>
<svg class="abs" style="left:69.00px;top:245.42px" width="9" height="7" viewBox="0 0 9 7"><path d="M0.8 1.2 L4.4 4.8 L8 1.2" fill="none" stroke="#2a2a2a" stroke-width="1.7"/></svg>
<span class="t lbl" style="transform:scaleX(0.93);left:79.20px;top:245.62px">Chile</span>
<span class="t lbl" style="transform:scaleX(0.93);left:88.40px;top:269.35px">Santiago</span>
<svg class="abs" style="left:69.00px;top:295.28px" width="9" height="7" viewBox="0 0 9 7"><path d="M0.8 1.2 L4.4 4.8 L8 1.2" fill="none" stroke="#2a2a2a" stroke-width="1.7"/></svg>
<span class="t lbl" style="transform:scaleX(0.93);left:79.20px;top:294.28px">Argentina</span>
<span class="t lbl" style="transform:scaleX(0.93);left:88.40px;top:320.01px">Buenos Aires</span>
<span class="t lbl" style="transform:scaleX(0.93);left:88.40px;top:344.94px">Cordoba</span>
<svg class="abs" style="left:59.60px;top:370.07px" width="9" height="7" viewBox="0 0 9 7"><path d="M0.8 1.2 L4.4 4.8 L8 1.2" fill="none" stroke="#2a2a2a" stroke-width="1.7"/></svg>
<span class="t lbl" style="transform:scaleX(0.93);left:68.60px;top:369.07px">Middle East</span>
<svg class="abs" style="left:69.00px;top:395.00px" width="9" height="7" viewBox="0 0 9 7"><path d="M0.8 1.2 L4.4 4.8 L8 1.2" fill="none" stroke="#2a2a2a" stroke-width="1.7"/></svg>
<span class="t lbl" style="transform:scaleX(0.93);left:79.20px;top:394.00px">Saudi Arabia</span>
<span class="t lbl" style="transform:scaleX(0.93);left:88.40px;top:418.93px">Riyadh</span>
<svg class="abs" style="left:1260.4px;top:458.3px" width="10" height="10" viewBox="0 0 10 10"><circle cx="5" cy="5" r="4.9" fill="#2573bb"/><rect x="4.35" y="4.2" width="1.4" height="3.4" fill="#fff"/><rect x="3.9" y="4.2" width="1.2" height="0.8" fill="#fff"/><rect x="3.8" y="7" width="2.5" height="0.8" fill="#fff"/><circle cx="5" cy="2.7" r="0.85" fill="#fff"/></svg>
<div class="abs" style="left:59px;top:483px;width:1210.70px;height:1px;background:#eeeff1"></div>
<span class="t" style="transform:scaleX(0.9228);left:58px;top:499px;font-size:9.3px;color:#444">v12.1.0-alpha.1 - &copy; 2023 CGE Risk Management Solutions B.V. - Licensed to CGE Risk Management Solution B.V. - For Alpha Testing</span>
</div></body></html>
